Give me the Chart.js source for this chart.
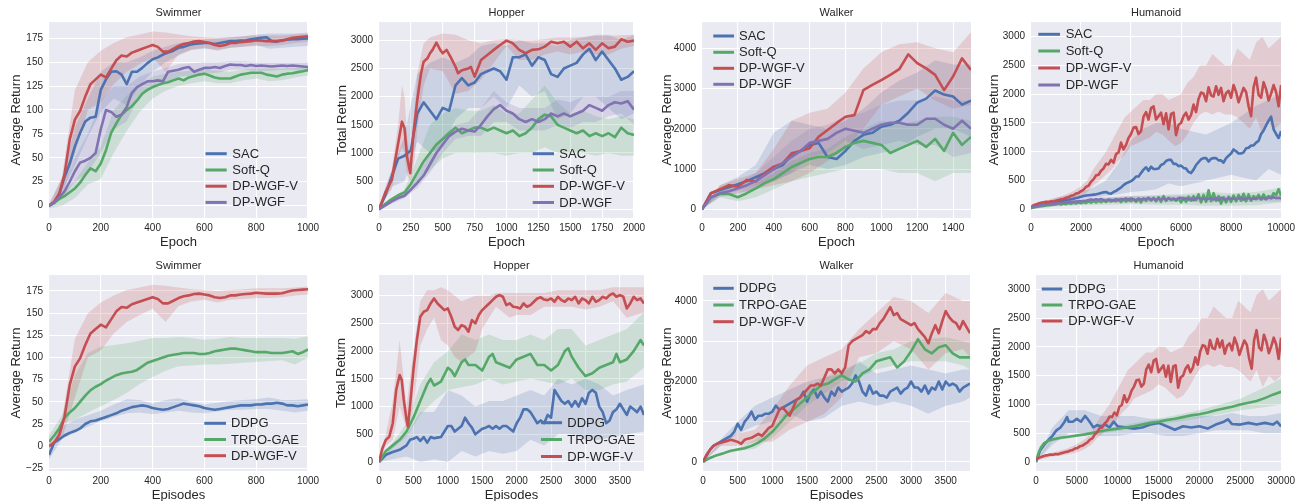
<!DOCTYPE html>
<html><head><meta charset="utf-8">
<script src="https://cdn.jsdelivr.net/npm/chart.js@4/dist/chart.umd.min.js"></script>
<style>
html,body{margin:0;padding:0;background:#fff;overflow:hidden;width:1299px;height:501px;position:relative}
canvas{position:absolute}
</style>
</head><body>
<canvas id="p1"></canvas><canvas id="p2"></canvas><canvas id="p3"></canvas><canvas id="p4"></canvas>
<canvas id="p5"></canvas><canvas id="p6"></canvas><canvas id="p7"></canvas><canvas id="p8"></canvas>
<script>
function range(start, step, n){const r=[];for(let i=0;i<n;i++)r.push(start+i*step);return r;}

// ---------- Swimmer (epochs / episodes 0..1000) ----------
const swimX = range(0,20,51);
const swimBX = range(0,50,21);
const swimSacY = [0,3,12,30,44,62,76,88,92,93,121,132,140,140.5,137,127,140,140,144,149,153,155,158,160,162,165,166,168,169,169.5,170,170,169,170,171,172,172,172.5,173,174,174.7,175.5,176,172,171.5,173,173.5,174,174,174.5,174.7];
const swimSoftQY = [0,3,7,10,14,18,24,32,39,36,44,58,76,86,95,100,104,110,117,121,124,126,128,129,131,133,131,134,135.5,137,138,136,134,133,133,133,135,137,138,139,139,139,137,136,135,137,138,138.5,139.6,140.5,141.7];
const swimRedY = [0,4,13,33,69,90,99,114,127,132,137,134,143,152,157,156,160,162,164,166,168,166,161,161,164,167,169,170,171.5,172,171,170,168,167,168,170,170,171,171.5,172,173,172.5,172,172,172,172.5,174,175.5,176,176.5,177];
const swimWgfY = [0,3,9,15,25,36,45,47,50,55,80,100,98,93,95,103,118,124,127,130,130,131,130,140,141,142,144,145,140,142,144,144,145,144,146,147.5,147,147,146,147,146,146.5,146,145.5,146,146.5,146,146.5,146,145.5,145];
const swimSacU = [1,28,82,112,140,150,150,155,162,166,170,172,174,175,176,177,179,180,180,180,181];
const swimSacL = [-1,15,42,72,98,112,105,125,140,150,157,163,164,163,165,166,168,164,165,166,167];
const swimSoftQU = [1,12,26,45,62,100,115,125,135,138,140,141,142,141,140,142,143,143,143,144,145];
const swimSoftQL = [-3,0,8,22,28,55,78,98,112,120,125,128,130,128,128,131,133,130,131,134,136];
const swimRedU = [2,30,121,150,162,170,176,179,182,181,179,177,176,175,176,177,178,178,178,179,180];
const swimRedL = [-2,8,55,100,108,127,140,148,155,140,158,163,165,162,165,166,167,167,168,170,171];
const swimWgfU = [1,14,50,75,110,125,125,135,140,144,148,149,150,150,151,151,150,150,150,150,150];
const swimWgfL = [-1,7,25,35,55,80,88,115,122,128,135,136,138,139,142,142,141,141,142,142,141];
const swimDdpgY = [-10,4,8,12,15,17,20,25,28,29,31,33,35,37,40,42,44,45,46,45,43,42,41,42,44,46,48,47,46,45,43,42,41,42,43,44,45,46,46,46,47,47,48,48,49,48,46,46,45,46,47];
const swimTrpoY = [5,12,20,32,38,43,50,57,63,67,70,74,77,80,82,83,84,86,90,94,96,98,100,102,103,104,105,105,105,104,104,105,107,108,109,110,110,109,108,107,106,106,106,105,105,105,106,107,104,106,109];
const swimDdpgU = [0,22,30,35,40,47,53,52,48,52,54,50,47,49,51,52,53,55,52,52,53];
const swimDdpgL = [-15,8,15,22,28,33,37,38,36,38,40,38,37,39,41,41,42,42,40,38,40];
const swimTrpoU = [12,35,80,105,112,114,116,119,122,122,123,122,120,121,123,122,122,122,122,121,124];
const swimTrpoL = [0,25,30,38,45,52,60,70,78,85,90,91,92,92,93,94,95,96,97,92,100];

// ---------- Hopper (epochs 0..2000) ----------
const hopX = range(0,50,41);
const hopBX = range(0,100,21);
const hopRedX = [0,50,100,150,180,200,220,245,270,300,330,350,380,400,420,450,480,500,530,560,600,620,650,700,720,750,780,800,850,900,950,1000,1050,1100,1150,1200,1250,1300,1350,1400,1450,1500,1550,1600,1650,1700,1750,1800,1850,1900,1950,2000];
const hopRedY = [0,300,520,1170,1556,1440,935,640,1350,1940,2415,2620,2680,2770,2830,2960,2830,2770,2830,2710,2530,2415,2470,2500,2530,2355,2530,2650,2740,2830,2917,2994,2947,2830,2770,2830,2840,2888,2976,2947,2976,2888,2976,2858,2947,2830,2947,2858,2888,3018,2976,2994];
const hopSacY = [0,250,580,900,950,1050,1700,1900,1750,1600,1800,1750,2200,2330,2200,2250,2400,2450,2500,2450,2300,2700,2700,2750,2550,2700,2650,2400,2350,2500,2550,2600,2750,2850,2650,2800,2650,2500,2300,2350,2450];
const hopSoftQY = [0,100,180,250,300,450,650,850,1000,1150,1250,1350,1450,1350,1400,1450,1450,1400,1450,1400,1350,1400,1300,1350,1450,1600,1680,1650,1500,1450,1400,1350,1400,1300,1350,1300,1350,1280,1450,1350,1320];
const hopWgfY = [0,70,140,200,240,350,470,600,800,1000,1150,1300,1380,1430,1400,1380,1500,1650,1780,1850,1750,1700,1600,1550,1600,1550,1600,1700,1650,1700,1650,1700,1750,1850,1800,1750,1850,1900,1880,1920,1770];
const hopRedBX = [0,50,100,150,180,200,220,250,280,300,350,400,500,600,700,800,900,1000,1100,1200,1300,1400,1500,1600,1700,1800,1900,2000];
const hopRedU = [0,400,700,1500,2200,2000,1300,800,1800,2400,2950,3050,3120,3100,3000,2950,3000,3020,3000,3000,3020,3050,3050,3060,3080,3080,3090,3100];
const hopRedL = [0,200,350,900,1100,1000,600,500,900,1400,2200,2500,2450,2050,2100,2300,2600,2900,2650,2650,2750,2800,2750,2800,2750,2750,2850,2900];
const hopSacU = [0,700,1300,2400,2600,2700,2600,2700,2900,2950,2900,3000,2950,2950,2900,3000,3050,3100,3100,3000,3100];
const hopSacL = [0,400,500,1200,1000,1100,1600,1800,1800,2000,1800,2200,2000,2100,1600,1700,2000,2000,1800,1600,1700];
const hopSoftQU = [0,200,350,900,1500,1700,1800,1750,1750,1850,1700,1700,1950,2200,1900,1700,1750,1650,1600,1650,1600];
const hopSoftQL = [0,150,250,450,700,900,1000,1000,1000,1000,950,1000,1000,1100,1000,1000,1000,950,1000,950,950];
const hopWgfU = [0,180,300,600,1000,1300,1500,1550,1800,2100,1900,1800,1800,1800,1950,1900,2000,2000,2000,2100,2100];
const hopWgfL = [0,100,200,380,650,1000,1250,1300,1300,1550,1550,1400,1400,1400,1500,1450,1550,1550,1650,1700,1500];

// ---------- Hopper (episodes 0..3850) ----------
const hopEpRedX = [0,50,100,150,200,250,300,330,360,400,420].concat(range(450,50,69));
const hopEpRedY = [0,250,400,457,700,1300,1570,1480,1120,760,640,1000,1660,2200,2620,2710,2740,2860,2950,2860,2800,2740,2770,2620,2440,2380,2470,2440,2350,2560,2500,2650,2740,2800,2860,2920,2980,3010,2980,2830,2860,2800,2790,2770,2860,2800,2830,2890,2950,2970,2930,2920,2950,2890,2980,2920,2890,2950,2920,2980,2860,2950,2920,2860,2980,2890,2920,2980,2950,3010,3040,2980,3010,2980,2770,2860,2980,2920,2950,2860];
const hopEpTrpoX = [0,100,200,300,400,500,600,700,750,800,900,1000,1050,1100,1200,1250,1300,1400,1500,1600,1650,1700,1800,1900,2000,2100,2200,2300,2400,2500,2600,2700,2750,2800,2900,3000,3100,3200,3300,3400,3450,3500,3600,3700,3800,3850];
const hopEpTrpoY = [0,200,300,400,550,800,1100,1400,1500,1380,1450,1700,1650,1550,1800,1850,1750,1750,1650,1900,1950,1800,1750,1700,1850,1900,1950,1750,1750,1650,1750,2000,2050,1900,1700,1550,1600,1700,1750,1800,1950,1800,1850,2000,2200,2100];
const hopEpDdpgX = [0,100,200,300,400].concat(range(450,50,69));
const hopEpDdpgY = [0,130,180,220,300,400,420,450,380,450,350,450,430,440,450,550,650,650,550,600,650,800,700,620,500,550,600,620,650,600,650,600,650,650,600,550,700,800,950,950,900,800,700,750,700,850,800,1300,1200,1100,1050,1100,1000,1100,1000,1150,1050,1250,1300,1250,1000,900,700,750,900,950,1050,950,850,1000,950,900,1000,850];
const hopEpRedBX = [0,100,200,300,400,500,600,700,800,900,1000,1100,1200,1300,1400,1500,1600,1700,1800,1900,2000,2200,2400,2600,2800,3000,3200,3400,3600,3850];
const hopEpRedU = [0,500,1100,2200,1000,2000,2900,3100,3100,3150,3100,3000,2900,2950,3000,3000,3000,3050,3050,3050,3050,3050,3050,3100,3100,3100,3100,3150,3150,3150];
const hopEpRedL = [0,300,400,1000,600,1000,2100,2400,2600,2200,2100,1900,1800,1900,2000,2400,2600,2800,2700,2600,2650,2650,2800,2800,2800,2750,2800,2900,2600,2700];
const hopEpBX = [0,200,400,600,800,1000,1200,1400,1600,1800,2000,2200,2400,2600,2800,3000,3200,3400,3600,3850];
const hopEpTrpoU = [0,350,700,1400,1800,2000,2300,2200,2300,2200,2200,2300,2200,2400,2400,2100,2200,2300,2400,2700];
const hopEpTrpoL = [0,250,450,850,1100,1300,1350,1400,1500,1400,1450,1500,1450,1400,1500,1300,1300,1400,1450,1700];
const hopEpDdpgU = [0,300,500,900,900,1300,1200,1000,1100,1100,1200,1300,1200,1500,1400,1500,1400,1200,1300,1400];
const hopEpDdpgL = [0,50,100,0,50,0,200,100,200,150,200,400,300,500,500,400,400,450,500,550];

// ---------- Walker (epochs 0..1500) ----------
const walkX = range(0,50,31);
const walkBX = range(0,100,16);
const walkRedY = [0,400,500,600,560,730,690,900,1060,1140,1390,1450,1515,1800,1970,2140,2300,2340,2960,3090,3210,3340,3480,3850,3630,3500,3340,2960,3300,3750,3460];
const walkSacY = [0,400,480,550,620,700,800,900,1000,1100,1350,1450,1600,1650,1300,1250,1450,1700,1850,1900,2050,2100,2200,2400,2650,2750,2950,2850,2800,2600,2700];
const walkSoftQY = [0,300,380,380,300,400,520,650,750,900,1050,1150,1250,1300,1300,1400,1550,1650,1700,1650,1600,1400,1500,1600,1700,1550,1750,1450,1900,1600,1800];
const walkWgfY = [0,300,400,450,520,600,700,850,1000,1150,1300,1450,1650,1700,1750,1900,2000,1950,1900,2000,2100,2150,2150,2100,2100,2250,2250,2100,2000,2200,2000];
const walkRedU = [0,600,750,900,1500,2200,2400,2500,2900,3500,3900,4100,4150,4000,3900,4400];
const walkRedL = [0,350,400,500,600,700,900,1200,1500,2000,2600,2800,3000,2700,2500,2600];
const walkSacU = [0,600,800,1100,1900,2200,2100,2000,2200,2500,2900,3200,3400,3700,3600,3600];
const walkSacL = [0,400,450,600,700,900,1100,1000,1100,1300,1400,1500,1800,2000,2000,1800];
const walkSoftQU = [0,450,400,650,900,1200,1400,1500,1800,2000,2200,2100,2200,2300,2300,2200];
const walkSoftQL = [0,300,200,300,500,700,800,900,1000,1000,1000,900,900,700,900,900];
const walkWgfU = [0,500,650,900,1300,1700,2000,2100,2300,2400,2600,2700,2700,2800,2700,2700];
const walkWgfL = [0,300,400,500,700,900,1300,1400,1700,1500,1600,1700,1600,1600,1300,1400];

// ---------- Walker (episodes 0..3850) ----------
const walkEpX = range(0,50,78);
const walkEpRedY = [0,180,300,400,450,480,500,520,550,530,500,450,550,580,600,650,700,650,750,850,900,1100,1300,1350,1250,1150,1350,1550,1600,1700,1800,1900,1900,1950,1900,2100,2300,2300,2200,2300,2200,2350,2900,3000,3050,3100,3150,3250,3200,3300,3300,3450,3550,3700,3850,3650,3700,3550,3500,3450,3400,3450,3300,3200,3100,2950,3200,3400,3200,3500,3750,3600,3500,3450,3300,3500,3350,3200];
const walkEpDdpgY = [0,150,300,400,450,500,550,600,650,750,950,800,1000,1100,1250,1050,1150,1150,1200,1200,1250,1400,1300,1350,1400,1450,1500,1550,1600,1750,1500,1700,1800,1600,1750,1600,1500,1750,1650,1850,1750,1800,1850,1950,2150,2000,1750,1650,1900,1700,1750,1650,1650,1600,1750,1800,1850,1700,1800,1850,2000,1850,1850,1750,1900,1700,1850,1800,2000,1800,2000,1900,1950,1900,1750,1850,1900,1950];
const walkEpTrpoX = range(0,100,39).concat([3850]);
const walkEpTrpoY = [0,100,170,220,280,310,340,400,480,600,750,950,1150,1300,1450,1600,1750,1900,1950,2050,2150,2050,2000,2200,2300,2500,2550,2600,2350,2500,2750,3050,2800,2700,2850,2900,2700,2600,2600,2600];
const walkEpBX = range(0,250,16).concat([3850]);
const walkEpRedU = [0,500,700,800,1300,1900,2400,2600,2800,3300,3700,4100,4000,3700,4200,4000,4000];
const walkEpRedL = [0,400,400,500,500,800,1000,1200,1600,2600,2700,3000,2800,2300,2700,2800,2600];
const walkEpTrpoU = [0,230,350,550,900,1350,1800,2100,2300,2450,2700,2800,3000,3050,3100,3000,2950];
const walkEpTrpoL = [0,170,280,330,600,1000,1400,1700,2000,2100,2300,2400,2500,2500,2500,2400,2300];
const walkEpDdpgU = [0,550,1000,1400,1600,1800,2000,2100,2200,2500,2200,2300,2400,2300,2200,2300,2300];
const walkEpDdpgL = [0,400,700,900,1000,1200,1000,1100,1400,1500,1400,1500,1400,1200,1400,1500,1600];

// ---------- Humanoid (epochs 0..10000, episodes 0..30000) ----------
const humX = range(0,100,101);
const humEpX = range(0,300,101);
const humRBX = range(0,250,41);
const humEpRBX = range(0,750,41);
const humBX = range(0,500,21);
const humSBX = range(0,1000,11);
const humRedY = [40,70,85,100,115,120,130,125,140,135,150,
160,175,180,200,210,235,245,275,285,315,
340,390,410,480,520,590,600,670,710,790,
780,860,810,960,990,1160,1040,1120,1240,1310,
1420,1430,1310,1360,1610,1690,1560,1760,1790,1560,
1620,1680,1480,1670,1390,1660,1680,1290,1470,1500,
1620,1680,1560,1640,1820,1690,1920,2030,2010,1880,
2120,1980,1960,2140,1990,2110,1880,2020,2060,1940,
2160,2040,1860,1990,2110,2040,1790,1620,2120,2290,
1990,1940,2210,2090,1890,2010,2160,2040,1790,2160];
const humSacY = [30,40,50,60,70,80,90,100,110,115,120,
130,140,150,160,165,175,185,195,205,220,
230,240,245,250,255,260,270,285,295,300,
280,270,300,320,350,380,420,450,470,490,
520,570,570,630,690,730,670,740,700,700,
710,770,790,840,860,860,790,790,750,760,
720,710,650,630,690,770,820,870,890,890,
830,880,890,890,850,850,810,890,930,970,
1040,1010,970,970,990,1060,1070,1110,1110,1160,
1190,1310,1370,1460,1540,1610,1390,1310,1240,1360];
const humSoftQY = [20,30,40,50,55,60,65,70,75,80,85,
95,85,100,90,110,95,115,100,120,105,
125,110,140,115,145,120,150,125,155,130,
160,135,165,140,170,125,175,135,180,140,
175,130,185,120,190,145,195,150,200,140,
210,130,230,145,200,160,185,150,190,120,
200,130,220,150,230,160,260,120,250,130,
330,140,280,150,230,100,210,120,220,130,
240,140,250,150,270,140,260,150,230,180,
250,170,260,180,230,200,280,250,350,230];
const humWgfY = [30,40,50,60,70,75,80,85,90,95,100,
105,110,115,120,125,130,132,135,138,140,
145,150,160,170,160,175,165,180,160,150,
170,160,150,175,160,180,170,190,160,190,
175,160,185,170,180,175,200,165,185,160,
190,170,195,165,190,175,185,170,195,200,
175,190,170,185,160,190,200,175,190,170,
185,195,170,190,160,200,185,170,195,180,
190,175,190,200,170,185,195,175,190,180,
200,185,195,175,205,190,210,195,200,190];
const humRedU = [80,120,150,170,200,230,280,330,400,500,700,850,1000,1200,1400,1600,1700,1800,1900,1900,2000,2000,1900,1950,2000,2200,2300,2500,2500,2700,2600,2500,2500,2800,2700,2600,2900,3000,2800,2900,3000];
const humRedL = [20,50,80,100,110,130,150,180,230,300,420,500,600,700,850,950,1100,1150,1200,1250,1350,1300,1200,1100,1150,1300,1500,1650,1700,1650,1700,1650,1650,1600,1500,1400,1600,1300,1500,1400,1500];
const humSacU = [50,120,200,250,300,380,500,800,1200,1400,1500,1500,1400,1350,1300,1400,1500,1650,1800,1900,2000];
const humSacL = [20,50,80,120,180,200,230,260,300,320,350,450,400,450,500,550,600,550,500,700,600];
const humSoftQU = [40,120,170,200,230,250,260,300,280,300,380];
const humSoftQL = [0,50,70,80,90,80,80,60,60,70,120];
const humWgfU = [50,130,180,210,230,230,240,230,240,250,250];
const humWgfL = [10,70,100,110,120,120,130,120,120,130,130];
const humEpDdpgX = [0,500,1000,1500,2000,2500,3000,3500,3800,4000,4500,5000,5500,6000,6300,6800,7000,7500,8000,8500,9000,9500,10000,11000,12000,13000,14000,15000,16000,17000,18000,19000,20000,21000,22000,23000,23500,24000,25000,26000,27000,28000,29000,29500,30000];
const humEpDdpgY = [0,200,300,380,450,550,600,700,780,700,700,750,700,800,750,650,600,640,620,650,600,700,620,600,580,600,650,680,620,560,620,600,620,580,650,700,740,660,650,680,650,680,650,700,620];
const humEpTrpoX = [0,300,600,1000,1500,2000].concat(range(3000,1000,28));
const humEpTrpoY = [0,150,250,330,370,390,420,440,460,480,510,540,560,580,600,620,650,680,700,730,750,780,810,830,860,900,930,960,1000,1030,1060,1110,1170,1220];
const humEpDdpgBX = range(0,2000,16);
const humEpDdpgU = [0,600,900,900,800,800,800,750,750,750,800,800,850,800,800,850];
const humEpDdpgL = [0,300,500,500,450,450,500,500,450,450,500,550,550,550,500,500];
const humEpTrpoBX = [0,2000,5000,10000,15000,20000,25000,28000,30000];
const humEpTrpoU = [0,420,480,620,750,900,1100,1300,1450];
const humEpTrpoL = [0,360,440,540,650,760,900,950,1000];

// ---------- tick values ----------
const swimYTicks = [0,25,50,75,100,125,150,175];
const swimEpYTicks = [-25,0,25,50,75,100,125,150,175];
const swimXTicks = [0,200,400,600,800,1000];
const hopYTicks = [0,500,1000,1500,2000,2500,3000];
const hopXTicks = [0,250,500,750,1000,1250,1500,1750,2000];
const epXTicks = [0,500,1000,1500,2000,2500,3000,3500];
const walkYTicks = [0,1000,2000,3000,4000];
const walkXTicks = [0,200,400,600,800,1000,1200,1400];
const humYTicks = [0,500,1000,1500,2000,2500,3000];
const humXTicks = [0,2000,4000,6000,8000,10000];
const humEpXTicks = [0,5000,10000,15000,20000,25000,30000];

// ---------- styling ----------
const FONT = "'Liberation Sans', Arial, Helvetica, sans-serif";
const TXT = '#262626';
const COL = {blue:'#4C72B0', green:'#55A868', red:'#C44E52', purple:'#8172B2'};
function rgba(hex,a){const n=parseInt(hex.slice(1),16);return 'rgba('+(n>>16)+','+((n>>8)&255)+','+(n&255)+','+a+')';}
function pts(xs, ys){const n=Math.min(xs.length, ys.length);const o=[];for(let i=0;i<n;i++)o.push({x:xs[i],y:ys[i]});return o;}
function fmt(v){return v<0 ? '\u2212'+Math.abs(v) : String(v);}

const bgPlugin = {id:'bg', beforeDraw(chart){const a=chart.chartArea,c=chart.ctx;c.save();c.fillStyle='#EAEAF2';c.fillRect(a.left,a.top,a.right-a.left,a.bottom-a.top);c.restore();}};
function legendPlugin(p){
  return {id:'lg', afterDraw(chart){
    const c=chart.ctx, L=p.legend;
    c.save(); c.font='13px '+FONT; c.textBaseline='middle'; c.textAlign='left';
    p.series.forEach((s,i)=>{
      const y=L.ys[i]-p.box[1];
      c.strokeStyle=s.color; c.lineWidth=3; c.lineCap='butt';
      c.beginPath(); c.moveTo(L.x1-p.box[0],y); c.lineTo(L.x2-p.box[0],y); c.stroke();
      c.fillStyle=TXT; c.fillText(s.label, L.tx-p.box[0], y+0.5);
    });
    c.restore();
  }};
}

function panel(p){
  const cv=document.getElementById(p.id);
  cv.width=p.box[2]; cv.height=p.box[3];
  cv.style.left=p.box[0]+'px'; cv.style.top=p.box[1]+'px';
  const area=p.area;
  const yw=area[0]-p.box[0], padR=p.box[0]+p.box[2]-area[2], xh=p.box[1]+p.box[3]-area[3];
  const titleH=area[1]-p.box[1];
  const tpb=titleH-13.2-p.titlePt;
  const ds=[]; const n=p.series.length;
  p.series.forEach((s,i)=>{
    ds.push({data:pts(s.bx,s.bu),borderWidth:0,borderColor:'rgba(0,0,0,0)',pointRadius:0,fill:'+1',backgroundColor:rgba(s.color,0.2),order:100-2*i});
    ds.push({data:pts(s.bx,s.bl),borderWidth:0,borderColor:'rgba(0,0,0,0)',pointRadius:0,fill:false,order:99-2*i});
  });
  p.series.forEach((s,i)=>{
    ds.push({label:s.label,data:pts(s.x,s.y),borderColor:s.color,borderWidth:2.6,pointRadius:0,fill:false,tension:0,borderJoinStyle:'round',order:n-i});
  });
  const tickFont={family:FONT,size:10};
  new Chart(cv,{type:'line',data:{datasets:ds},options:{
    responsive:false,animation:false,devicePixelRatio:1,
    layout:{padding:{left:0,top:0,right:padR,bottom:0},autoPadding:false},
    plugins:{legend:{display:false},tooltip:{enabled:false},
      title:{display:true,text:p.title,fullSize:false,color:TXT,font:{family:FONT,size:11,weight:'normal',lineHeight:1.2},padding:{top:p.titlePt,bottom:tpb}}},
    scales:{
      x:{type:'linear',min:p.xr[0],max:p.xr[1],
        afterBuildTicks:s=>{s.ticks=p.xt.map(v=>({value:v}));},
        afterFit:s=>{s.height=xh;},
        ticks:{color:TXT,font:tickFont,padding:4,maxRotation:0,minRotation:0,autoSkip:false,callback:v=>fmt(v)},
        grid:{color:'#ffffff',lineWidth:1.1,drawTicks:false},border:{display:false},
        title:{display:true,text:p.xTitle,color:TXT,font:{family:FONT,size:13,lineHeight:1.2},padding:{top:0,bottom:p.xtpb}}},
      y:{type:'linear',min:p.yr[0],max:p.yr[1],
        afterBuildTicks:s=>{s.ticks=p.yt.map(v=>({value:v}));},
        afterFit:s=>{s.width=yw;},
        ticks:{color:TXT,font:tickFont,padding:6,autoSkip:false,callback:v=>fmt(v)},
        grid:{color:'#ffffff',lineWidth:1.1,drawTicks:false},border:{display:false},
        title:{display:true,text:p.yTitle,color:TXT,font:{family:FONT,size:13,lineHeight:1.2},padding:{top:p.ytp,bottom:0}}}
    }}, plugins:[bgPlugin,legendPlugin(p)]});
}

const S = (label,color,x,y,bx,bu,bl)=>({label,color,x,y,bx,bu,bl});

panel({id:'p1',box:[0,0,330,250],area:[49,22,308,218],title:'Swimmer',titlePt:5.9,xTitle:'Epoch',xtpb:0,yTitle:'Average Return',ytp:8.5,
  xr:[0,1000],yr:[-12.9,192],xt:swimXTicks,yt:swimYTicks,
  legend:{x1:205.5,x2:226.7,tx:232.3,ys:[153.7,170,186.2,202.4]},
  series:[S('SAC',COL.blue,swimX,swimSacY,swimBX,swimSacU,swimSacL),
          S('Soft-Q',COL.green,swimX,swimSoftQY,swimBX,swimSoftQU,swimSoftQL),
          S('DP-WGF-V',COL.red,swimX,swimRedY,swimBX,swimRedU,swimRedL),
          S('DP-WGF',COL.purple,swimX,swimWgfY,swimBX,swimWgfU,swimWgfL)]});

panel({id:'p2',box:[330,0,325,250],area:[379,22,634,218],title:'Hopper',titlePt:5.9,xTitle:'Epoch',xtpb:0,yTitle:'Total Return',ytp:4.5,
  xr:[0,2000],yr:[-154,3325],xt:hopXTicks,yt:hopYTicks,
  legend:{x1:532.7,x2:554,tx:559.3,ys:[153.7,170,186.3,202.5]},
  series:[S('SAC',COL.blue,hopX,hopSacY,hopBX,hopSacU,hopSacL),
          S('Soft-Q',COL.green,hopX,hopSoftQY,hopBX,hopSoftQU,hopSoftQL),
          S('DP-WGF-V',COL.red,hopRedX,hopRedY,hopRedBX,hopRedU,hopRedL),
          S('DP-WGF',COL.purple,hopX,hopWgfY,hopBX,hopWgfU,hopWgfL)]});

panel({id:'p3',box:[655,0,320,250],area:[702,22,971,218],title:'Walker',titlePt:5.9,xTitle:'Epoch',xtpb:0,yTitle:'Average Return',ytp:4.9,
  xr:[0,1500],yr:[-216,4653],xt:walkXTicks,yt:walkYTicks,
  legend:{x1:713.3,x2:734,tx:739,ys:[36,52.3,68.3,84.3]},
  series:[S('SAC',COL.blue,walkX,walkSacY,walkBX,walkSacU,walkSacL),
          S('Soft-Q',COL.green,walkX,walkSoftQY,walkBX,walkSoftQU,walkSoftQL),
          S('DP-WGF-V',COL.red,walkX,walkRedY,walkBX,walkRedU,walkRedL),
          S('DP-WGF',COL.purple,walkX,walkWgfY,walkBX,walkWgfU,walkWgfL)]});

panel({id:'p4',box:[975,0,324,250],area:[1031,22,1283,218],title:'Humanoid',titlePt:5.9,xTitle:'Epoch',xtpb:0,yTitle:'Average Return',ytp:11.5,
  xr:[0,10000],yr:[-151,3256],xt:humXTicks,yt:humYTicks,
  legend:{x1:1038.3,x2:1060,tx:1065.7,ys:[34.3,51,68,85]},
  series:[S('SAC',COL.blue,humX,humSacY,humBX,humSacU,humSacL),
          S('Soft-Q',COL.green,humX,humSoftQY,humSBX,humSoftQU,humSoftQL),
          S('DP-WGF-V',COL.red,humX,humRedY,humRBX,humRedU,humRedL),
          S('DP-WGF',COL.purple,humX,humWgfY,humSBX,humWgfU,humWgfL)]});

panel({id:'p5',box:[0,250,330,254],area:[49,275,308,471],title:'Swimmer',titlePt:9.1,xTitle:'Episodes',xtpb:0.5,yTitle:'Average Return',ytp:8.2,
  xr:[0,1000],yr:[-28,193],xt:swimXTicks,yt:swimEpYTicks,
  legend:{x1:204.3,x2:226,tx:231,ys:[423.3,439.5,455.7]},
  series:[S('DDPG',COL.blue,swimX,swimDdpgY,swimBX,swimDdpgU,swimDdpgL),
          S('TRPO-GAE',COL.green,swimX,swimTrpoY,swimBX,swimTrpoU,swimTrpoL),
          S('DP-WGF-V',COL.red,swimX,swimRedY,swimBX,swimRedU,swimRedL)]});

panel({id:'p6',box:[330,250,325,254],area:[379,275,644,471],title:'Hopper',titlePt:9.1,xTitle:'Episodes',xtpb:0.5,yTitle:'Total Return',ytp:3.9,
  xr:[0,3850],yr:[-162,3373],xt:epXTicks,yt:hopYTicks,
  legend:{x1:541,x2:562,tx:567.3,ys:[422.7,439.5,456.5]},
  series:[S('DDPG',COL.blue,hopEpDdpgX,hopEpDdpgY,hopEpBX,hopEpDdpgU,hopEpDdpgL),
          S('TRPO-GAE',COL.green,hopEpTrpoX,hopEpTrpoY,hopEpBX,hopEpTrpoU,hopEpTrpoL),
          S('DP-WGF-V',COL.red,hopEpRedX,hopEpRedY,hopEpRedBX,hopEpRedU,hopEpRedL)]});

panel({id:'p7',box:[655,250,320,254],area:[703,275,970,471],title:'Walker',titlePt:9.1,xTitle:'Episodes',xtpb:0.5,yTitle:'Average Return',ytp:4.9,
  xr:[0,3850],yr:[-224,4646],xt:epXTicks,yt:walkYTicks,
  legend:{x1:713.3,x2:733.7,tx:739,ys:[288.3,305,321.7]},
  series:[S('DDPG',COL.blue,walkEpX,walkEpDdpgY,walkEpBX,walkEpDdpgU,walkEpDdpgL),
          S('TRPO-GAE',COL.green,walkEpTrpoX,walkEpTrpoY,walkEpBX,walkEpTrpoU,walkEpTrpoL),
          S('DP-WGF-V',COL.red,walkEpX,walkEpRedY,walkEpBX,walkEpRedU,walkEpRedL)]});

panel({id:'p8',box:[975,250,324,254],area:[1036,275,1286,471],title:'Humanoid',titlePt:9.1,xTitle:'Episodes',xtpb:0.5,yTitle:'Average Return',ytp:13.9,
  xr:[0,30000],yr:[-156,3248],xt:humEpXTicks,yt:humYTicks,
  legend:{x1:1041.7,x2:1062.3,tx:1068.3,ys:[289,305,321]},
  series:[S('DDPG',COL.blue,humEpDdpgX,humEpDdpgY,humEpDdpgBX,humEpDdpgU,humEpDdpgL),
          S('TRPO-GAE',COL.green,humEpTrpoX,humEpTrpoY,humEpTrpoBX,humEpTrpoU,humEpTrpoL),
          S('DP-WGF-V',COL.red,humEpX,humRedY,humEpRBX,humRedU,humRedL)]});
</script>
</body></html>
